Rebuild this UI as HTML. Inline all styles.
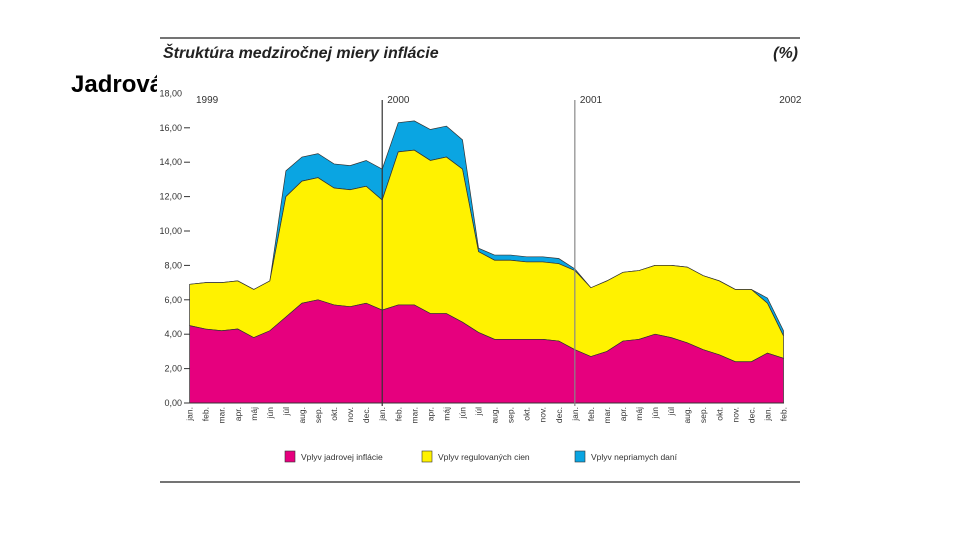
<!DOCTYPE html>
<html><head><meta charset="utf-8"><style>
body{margin:0;background:#fff;width:960px;height:540px;overflow:hidden;font-family:"Liberation Sans",sans-serif}
</style></head><body>
<svg width="960" height="540" viewBox="0 0 960 540" xmlns="http://www.w3.org/2000/svg">
<text x="71" y="92" font-size="24" font-weight="bold" font-family="Liberation Sans,sans-serif" fill="#000">Jadrová inflácia</text>
<rect x="157" y="30" width="647" height="460" fill="#fff"/>
<line x1="160" y1="38" x2="800" y2="38" stroke="#222" stroke-width="1.2"/>
<line x1="160" y1="482" x2="800" y2="482" stroke="#222" stroke-width="1.2"/>
<text x="163" y="58" font-size="16" font-weight="bold" font-style="italic" fill="#222">Štruktúra medziročnej miery inflácie</text>
<text x="798" y="58" font-size="16" font-weight="bold" font-style="italic" fill="#222" text-anchor="end">(%)</text>
<g id="plot"></g>
</svg>
<script>
const months=["jan.","feb.","mar.","apr.","máj","jún","júl","aug.","sep.","okt.","nov.","dec."];
const categories=[];
for(let y=1999;y<=2001;y++)for(const m of months)categories.push(m+" "+y);
categories.push("jan. 2002","feb. 2002");
const core=[4.5,4.3,4.2,4.3,3.8,4.2,5.0,5.8,6.0,5.7,5.6,5.8,5.4,5.7,5.7,5.2,5.2,4.7,4.1,3.7,3.7,3.7,3.7,3.6,3.1,2.7,3.0,3.6,3.7,4.0,3.8,3.5,3.1,2.8,2.4,2.4,2.9,2.6];
const regulated=[2.4,2.7,2.8,2.8,2.8,2.9,7.0,7.1,7.1,6.8,6.8,6.8,6.4,8.9,9.0,8.9,9.1,8.9,4.7,4.6,4.6,4.5,4.5,4.5,4.6,4.0,4.1,4.0,4.0,4.0,4.2,4.4,4.3,4.3,4.2,4.2,2.9,1.3];
const taxes=[0,0,0,0,0,0,1.5,1.4,1.4,1.4,1.4,1.5,1.8,1.7,1.7,1.8,1.8,1.7,0.2,0.3,0.3,0.3,0.3,0.3,0.1,0,0,0,0,0,0,0,0,0,0,0,0.3,0.3];
const yTicks=[0,2,4,6,8,10,12,14,16,18];
const yearLabels=["1999","2000","2001","2002"];
const yearIdx=[0,12,24,37];
const NS="http://www.w3.org/2000/svg";
const g=document.getElementById("plot");
const X=i=>189.6+i*(783.5-189.6)/(categories.length-1);
const Y=v=>403-v*17.2;
function el(t,a){const e=document.createElementNS(NS,t);for(const k in a)e.setAttribute(k,a[k]);g.appendChild(e);return e;}
const c1=core, c2=core.map((v,i)=>v+regulated[i]), c3=c2.map((v,i)=>v+taxes[i]);
function area(top,bot,fill,name){
  let d="M"+X(0)+","+Y(top[0]);
  for(let i=1;i<top.length;i++)d+="L"+X(i)+","+Y(top[i]);
  for(let i=bot.length-1;i>=0;i--)d+="L"+X(i)+","+Y(bot[i]);
  d+="Z";
  const p=el("path",{d:d,fill:fill,stroke:"#333","stroke-width":"0.7"});
  
  
}
const zero=core.map(()=>0);
area(c3,c2,"#0aa5e2","area-indirect-taxes");
area(c2,c1,"#fff200","area-regulated-prices");
area(c1,zero,"#e6007e","area-core-inflation");
yTicks.forEach(v=>{
  const t=el("text",{x:182,y:Y(v)+3,"font-size":"9","text-anchor":"end",fill:"#333"});
  t.textContent=v.toFixed(2).replace(".",",");
  
  
  if(v>0&&v<18){const l=el("line",{x1:184,x2:190,y1:Y(v),y2:Y(v),stroke:"#333"});
  
  }
});
const ax=el("line",{x1:184,x2:784,y1:403,y2:403,stroke:"#333"});


categories.forEach((c,i)=>{
  const t=el("text",{transform:"translate("+(X(i)+3)+",407) rotate(-90)","font-size":"8.5","text-anchor":"end",fill:"#333"});
  t.textContent=c.split(" ")[0];
  
  
});
yearLabels.forEach((y,k)=>{
  const i=yearIdx[k];
  const t=el("text",{x:k==0?196:(k==3?X(i)+18:X(i)+5),y:103,"font-size":"10","text-anchor":k==3?"end":"start",fill:"#333"});
  t.textContent=y;
  
  
  if(k==1||k==2){const l=el("line",{x1:X(i),x2:X(i),y1:100,y2:406,stroke:k==1?"#333":"#888","stroke-width":"1.2"});
  
  }
});
const leg=[["#e6007e","Vplyv jadrovej inflácie",285],["#fff200","Vplyv regulovaných cien",422],["#0aa5e2","Vplyv nepriamych daní",575]];
leg.forEach(l=>{
  const r=el("rect",{x:l[2],y:451,width:10,height:11,fill:l[0],stroke:"#333","stroke-width":"0.6"});
  
  
  const t=el("text",{x:l[2]+16,y:460,"font-size":"8.5",fill:"#333"});
  t.textContent=l[1];
  
  
});
</script>
</body></html>
